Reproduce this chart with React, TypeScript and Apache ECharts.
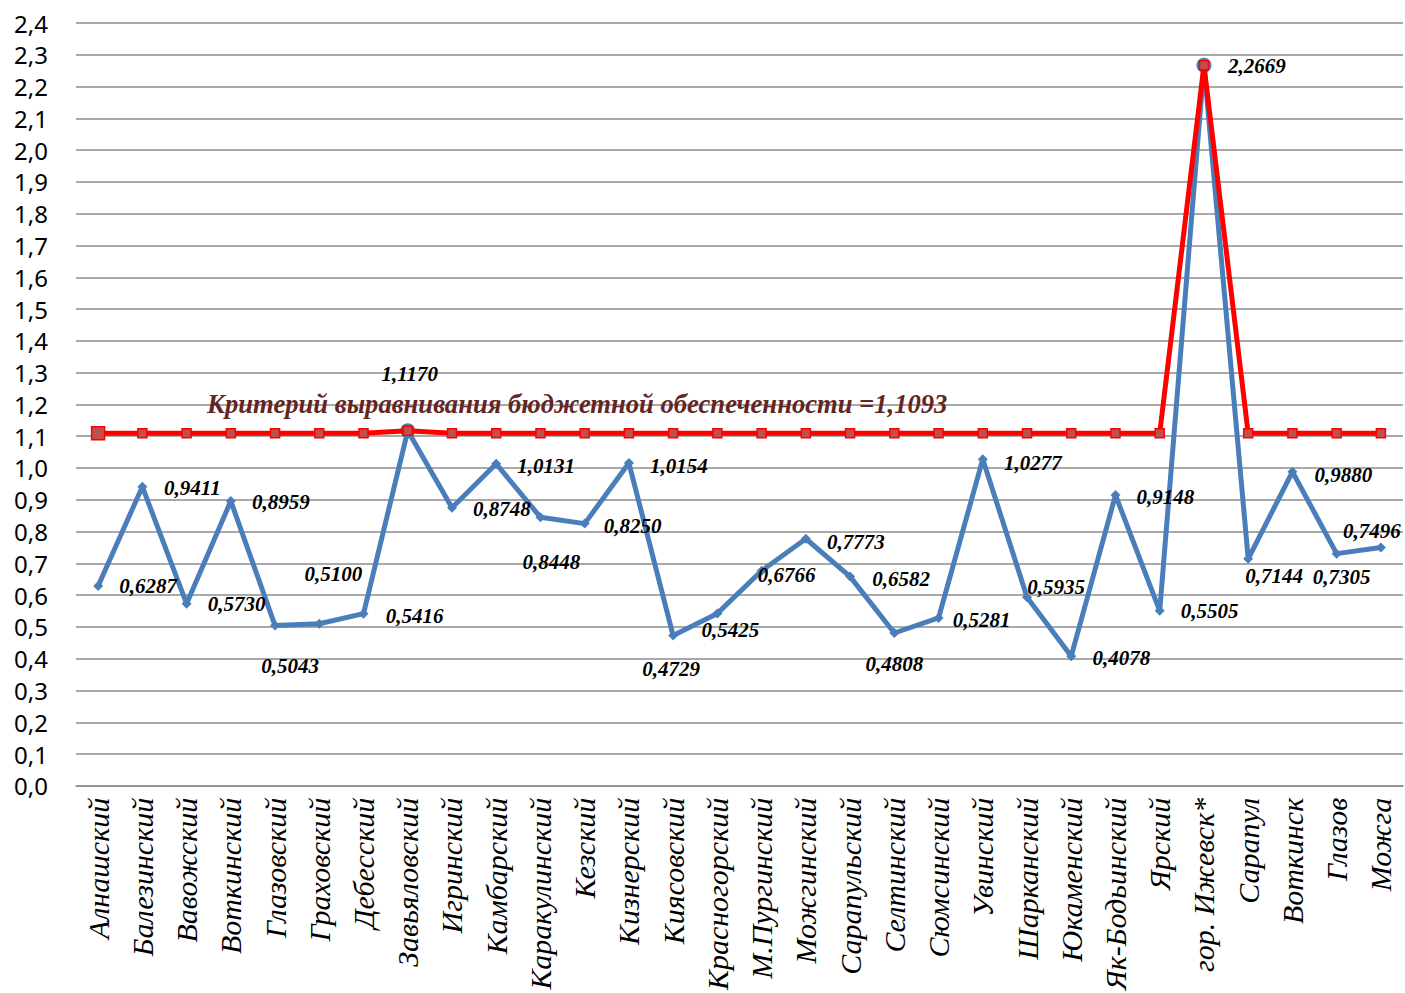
import React, { useEffect, useRef } from "react";
import * as echarts from "echarts";

const categories = [
  "Алнашский", "Балезинский", "Вавожский", "Воткинский", "Глазовский", "Граховский",
  "Дебесский", "Завьяловский", "Игринский", "Камбарский", "Каракулинский", "Кезский",
  "Кизнерский", "Киясовский", "Красногорский", "М.Пургинский", "Можгинский", "Сарапульский",
  "Селтинский", "Сюмсинский", "Увинский", "Шарканский", "Юкаменский", "Як-Бодьинский",
  "Ярский", "гор. Ижевск*", "Сарапул", "Воткинск", "Глазов", "Можга",
];

const budgetValues = [
  0.6287, 0.9411, 0.5730, 0.8959, 0.5043, 0.5100, 0.5416, 1.1170, 0.8748, 1.0131,
  0.8448, 0.8250, 1.0154, 0.4729, 0.5425, 0.6766, 0.7773, 0.6582, 0.4808, 0.5281,
  1.0277, 0.5935, 0.4078, 0.9148, 0.5505, 2.2669, 0.7144, 0.9880, 0.7305, 0.7496,
];

const criterionValues = [
  1.1093, 1.1093, 1.1093, 1.1093, 1.1093, 1.1093, 1.1093, 1.1170, 1.1093, 1.1093,
  1.1093, 1.1093, 1.1093, 1.1093, 1.1093, 1.1093, 1.1093, 1.1093, 1.1093, 1.1093,
  1.1093, 1.1093, 1.1093, 1.1093, 1.1093, 2.2669, 1.1093, 1.1093, 1.1093, 1.1093,
];

const criterionText = "Критерий выравнивания бюджетной обеспеченности =1,1093";

// label placement (styling): offset of label centre from point
const labelOffsets: [number, number][] = [
  [50, 0], [50, 1], [50, 0], [50, 1], [15, 40], [14, -50], [51, 2], [2, -57], [50, 1], [50, 2],
  [11, 45], [48, 2], [50, 3], [-2, 33], [13, 17], [25, 4], [50, 3], [51, 2], [0, 31], [43, 2],
  [50, 4], [29, -10], [50, 2], [50, 2], [50, 0], [53, 1], [26, 17], [51, 3], [5, 23], [-9, -17],
];
const circleIdx = [7, 25];

const SERIF = "'Liberation Serif', 'Times New Roman', 'DejaVu Serif', serif";

export default function App() {
  const ref = useRef<HTMLDivElement>(null);
  useEffect(() => {
    if (!ref.current) return;
    const chart = echarts.init(ref.current, undefined, { renderer: "svg" });
    const blue = "#4a7ebb";
    const blueData = budgetValues.map((v, i) => {
      const circ = circleIdx.includes(i);
      return {
        value: v,
        symbol: circ ? "circle" : "diamond",
        symbolSize: circ ? 15 : 10,
        label: { offset: labelOffsets[i] },
      };
    });
    const redData = criterionValues.map((v, i) => ({
      value: v,
      symbolSize: i === 0 ? 13 : 9,
    }));
    chart.setOption({
      animation: false,
      backgroundColor: "#ffffff",
      grid: { left: 76, right: 2, top: 23, bottom: 206, containLabel: false },
      xAxis: {
        type: "category",
        data: categories,
        boundaryGap: true,
        axisLine: { show: true, lineStyle: { color: "#8c8c8c", width: 1.5 } },
        axisTick: { show: false },
        axisLabel: {
          rotate: 90,
          interval: 0,
          margin: 12,
          fontFamily: SERIF,
          fontStyle: "italic",
          fontSize: 30,
          color: "#000",
        },
      },
      yAxis: {
        type: "value",
        min: 0,
        max: 2.4,
        interval: 0.1,
        axisLine: { show: false },
        axisTick: { show: false },
        splitLine: { show: true, lineStyle: { color: "#8c8c8c", width: 1.5 } },
        axisLabel: {
          margin: 28,
          fontFamily: "Noto Sans",
          fontSize: 24,
          color: "#000",
          formatter: (v: number) => v.toFixed(1).replace(".", ","),
        },
      },
      series: [
        {
          name: "budget",
          type: "line",
          data: blueData,
          z: 2,
          lineStyle: { color: blue, width: 5 },
          itemStyle: { color: blue },
          label: {
            show: true,
            position: "inside",
            align: "center",
            verticalAlign: "middle",
            fontFamily: SERIF,
            fontStyle: "italic",
            fontWeight: "bold",
            fontSize: 21,
            color: "#000",
            formatter: (p: any) => Number(p.value).toFixed(4).replace(".", ","),
          },
        },
        {
          name: "criterion",
          type: "line",
          data: redData,
          z: 3,
          symbol: "rect",
          lineStyle: { color: "#ff0000", width: 5 },
          itemStyle: { color: "#c0504d", borderColor: "#ff0000", borderWidth: 1.5 },
          label: { show: false },
        },
      ],
      graphic: [
        {
          type: "text",
          left: 207,
          top: 390,
          style: {
            text: criterionText,
            font: "italic bold 26.6px 'Liberation Serif', serif",
            fill: "#632523",
          },
          z: 10,
        },
      ],
    });
    return () => chart.dispose();
  }, []);
  return (
    <div
      ref={ref}
      style={{ position: "fixed", left: 0, top: 0, width: 1405, height: 993 }}
    />
  );
}
